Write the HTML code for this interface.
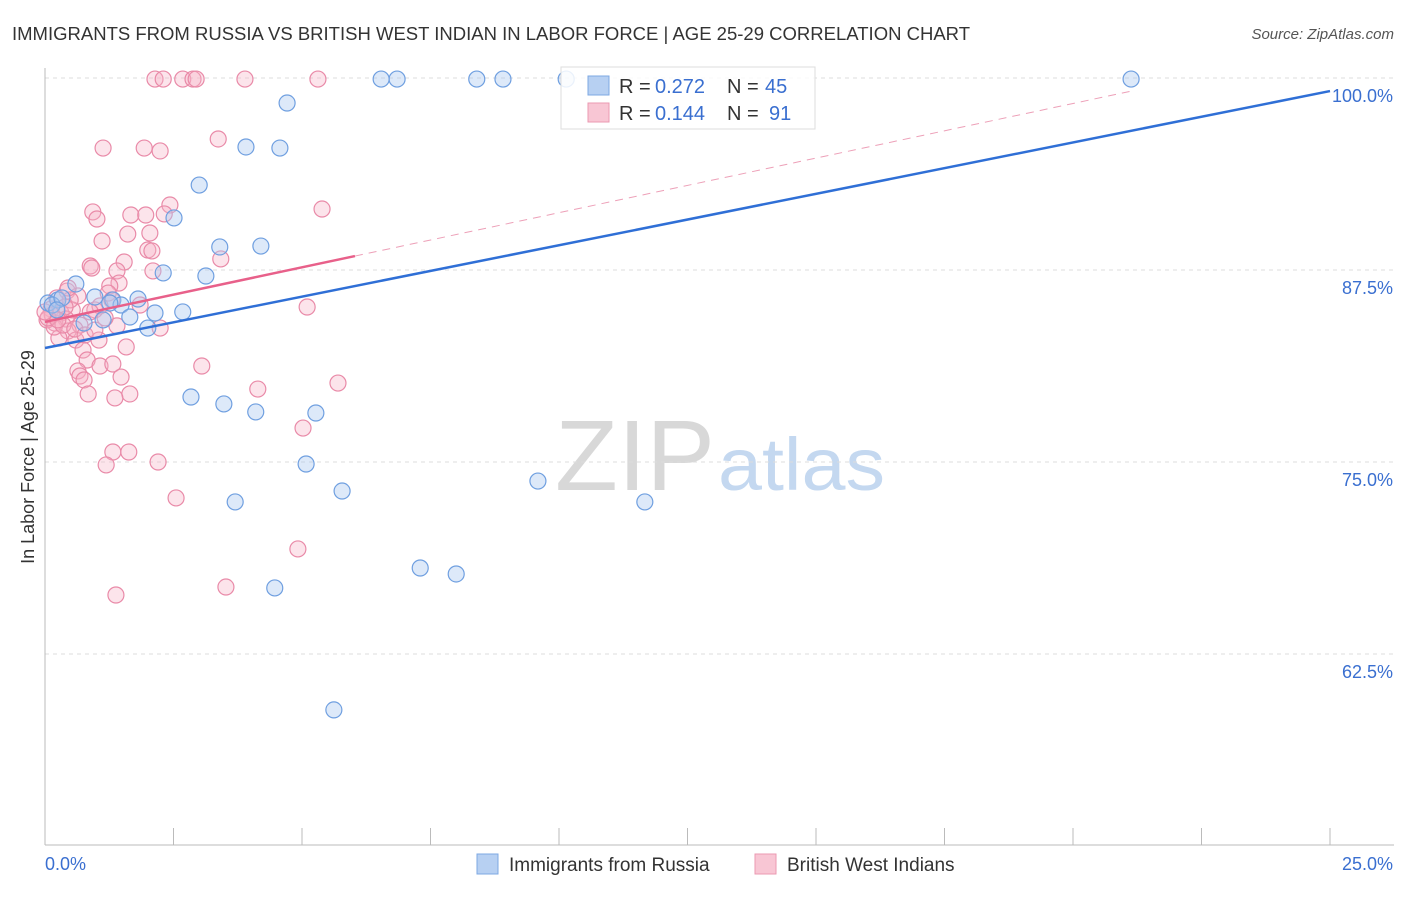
<!DOCTYPE html>
<html><head><meta charset="utf-8">
<style>
body{margin:0;background:#fff;font-family:"Liberation Sans",sans-serif;}
svg text{font-family:"Liberation Sans",sans-serif;}
</style></head>
<body>
<svg id="chart" width="1406" height="892" viewBox="0 0 1406 892" xmlns="http://www.w3.org/2000/svg">
<text x="12" y="40" font-size="18" fill="#333" textLength="958" lengthAdjust="spacingAndGlyphs">IMMIGRANTS FROM RUSSIA VS BRITISH WEST INDIAN IN LABOR FORCE | AGE 25-29 CORRELATION CHART</text>
<text x="1394" y="39" font-size="15" fill="#555" text-anchor="end" font-style="italic">Source: ZipAtlas.com</text>
<text transform="translate(34,457) rotate(-90)" font-size="18" fill="#333" text-anchor="middle">In Labor Force | Age 25-29</text>
<g>
<text x="555" y="490" font-size="100" fill="#d8d8d8" font-family="Liberation Serif, serif" textLength="160" lengthAdjust="spacingAndGlyphs">ZIP</text>
<text x="718" y="490" font-size="74" fill="#c4d8f0" textLength="167" lengthAdjust="spacingAndGlyphs">atlas</text>
</g>
<g id="grid"></g>
<g id="axes"></g>
<g id="pts"></g>
<g id="trend"></g>
<g>
<rect x="561" y="67" width="254" height="62" fill="#fff" fill-opacity="0.85" stroke="#ddd"/>
<rect x="588" y="76" width="21" height="19" fill="#b7d0f2" stroke="#7ea8e3"/>
<text x="619" y="93" font-size="20" fill="#333">R =</text>
<text x="655" y="93" font-size="20" fill="#3a6fd0">0.272</text>
<text x="727" y="93" font-size="20" fill="#333">N =</text>
<text x="765" y="93" font-size="20" fill="#3a6fd0">45</text>
<rect x="588" y="103" width="21" height="19" fill="#f8c6d4" stroke="#eb99b2"/>
<text x="619" y="120" font-size="20" fill="#333">R =</text>
<text x="655" y="120" font-size="20" fill="#3a6fd0">0.144</text>
<text x="727" y="120" font-size="20" fill="#333">N =</text>
<text x="769" y="120" font-size="20" fill="#3a6fd0">91</text>
</g>
<g>
<rect x="477" y="854" width="21" height="20" fill="#b7d0f2" stroke="#7ea8e3"/>
<text x="509" y="871" font-size="19" fill="#333">Immigrants from Russia</text>
<rect x="755" y="854" width="21" height="20" fill="#f8c6d4" stroke="#eb99b2"/>
<text x="787" y="871" font-size="19" fill="#333">British West Indians</text>
</g>
</svg>
<script>
const xTickVals=[0,2.5,5,7.5,10,12.5,15,17.5,20,22.5,25];
const yTickVals=[62.5,75,87.5,100];
const yTickLabels=["62.5%","75.0%","87.5%","100.0%"];
const russiaX=[10.14,6.54,6.85,8.40,8.91,21.13,4.71,3.91,4.57,3.00,2.51,3.40,4.20,2.30,3.13,0.60,0.97,1.32,1.81,1.48,0.06,0.25,1.65,2.14,2.68,1.13,0.76,2.00,2.84,3.48,4.10,5.27,5.08,3.70,5.78,9.59,11.67,7.30,8.00,4.47,5.62,0.14,0.33,1.26,0.23];
const russiaY=[99.93,99.93,99.93,99.93,99.93,99.93,98.37,95.51,95.44,93.03,90.89,89.0,89.06,87.31,87.11,86.59,85.74,85.55,85.61,85.22,85.35,85.55,84.44,84.70,84.77,84.25,84.05,83.72,79.23,78.78,78.26,78.19,74.87,72.40,73.11,73.76,72.40,68.10,67.71,66.80,58.86,85.22,85.68,85.35,84.90];
const bwiX=[2.14,2.30,2.68,2.88,2.94,3.89,5.31,3.37,1.13,1.93,2.24,2.43,0.93,1.01,1.67,1.96,2.32,5.39,1.61,2.04,1.11,2.00,2.08,3.42,0.88,0.91,1.54,1.40,2.10,1.44,1.26,0.43,0.64,1.23,1.30,0.97,5.10,0.12,0.31,0.53,0.41,0.19,0.04,0.68,1.40,2.24,0.45,0.27,1.05,0.60,1.58,0.74,0.82,1.07,1.32,3.05,0.64,0.68,0.76,1.48,5.70,4.14,0.84,1.65,1.36,5.02,1.32,1.63,1.19,2.20,2.55,4.92,3.52,1.38,0.14,0.18,0.35,0.58,0.06,0.23,0.49,1.07,0.88,1.17,0.39,0.0,0.78,0.97,1.85,0.45,0.25];
const bwiY=[99.93,99.93,99.93,99.93,99.93,99.93,99.93,96.03,95.44,95.44,95.25,91.73,91.28,90.82,91.08,91.08,91.15,91.47,89.84,89.91,89.39,88.80,88.74,88.22,87.76,87.63,88.02,87.44,87.44,86.65,86.46,86.13,85.81,86.0,85.55,84.90,85.09,84.96,84.70,84.90,84.31,84.05,84.25,83.92,83.86,83.72,83.53,83.07,82.94,82.94,82.49,82.29,81.64,81.25,81.38,81.25,80.93,80.60,80.34,80.53,80.14,79.75,79.43,79.43,79.17,77.21,75.65,75.65,74.81,75.0,72.66,69.34,66.86,66.34,84.57,83.79,83.92,83.66,84.38,85.68,85.55,85.16,84.77,84.38,85.09,84.77,83.27,83.59,85.22,86.33,84.25];
const russiaTrend=[82.42,99.15];
const bwiTrend=[84.12,0.711];
const bwiSolidEnd=6.03, bwiDashEnd=21.1;

const NS="http://www.w3.org/2000/svg";
const X=v=>45+v/25*1285;
const Y=v=>78+(100-v)*15.36;
function mk(tag,attrs,parent){const e=document.createElementNS(NS,tag);for(const k in attrs)e.setAttribute(k,attrs[k]);parent.appendChild(e);return e;}
const grid=document.getElementById('grid'),axes=document.getElementById('axes'),pts=document.getElementById('pts'),tr=document.getElementById('trend');
yTickVals.forEach((v,i)=>{
  const l=mk('line',{x1:45,x2:1394,y1:Y(v),y2:Y(v),stroke:'#ddd','stroke-dasharray':'4,4'},grid);
  
  
  const t=mk('text',{x:1393,y:Y(v)+24,'font-size':18,fill:'#3a6fd0','text-anchor':'end'},axes);
  t.textContent=yTickLabels[i];
  
  
});
const xa=mk('line',{x1:45,x2:1394,y1:845,y2:845,stroke:'#bbb'},axes);


const ya=mk('line',{x1:45,x2:45,y1:68,y2:845,stroke:'#bbb'},axes);


xTickVals.forEach(v=>{
  const t=mk('line',{x1:X(v),x2:X(v),y1:828,y2:845,stroke:'#bbb'},axes);
  
  
});
const xl0=mk('text',{x:45,y:870,'font-size':18,fill:'#3a6fd0'},axes);xl0.textContent='0.0%';


const xl1=mk('text',{x:1393,y:870,'font-size':18,fill:'#3a6fd0','text-anchor':'end'},axes);xl1.textContent='25.0%';


bwiX.forEach((x,i)=>{
  const c=mk('circle',{cx:X(x),cy:Y(bwiY[i]),r:8,fill:'#f5b3c7','fill-opacity':0.35,stroke:'#e98aa8','stroke-width':1.2},pts);
  
  
});
russiaX.forEach((x,i)=>{
  const c=mk('circle',{cx:X(x),cy:Y(russiaY[i]),r:8,fill:'#a9c8ef','fill-opacity':0.4,stroke:'#6f9fe0','stroke-width':1.2},pts);
  
  
});
const rl=mk('line',{x1:X(0),y1:Y(russiaTrend[0]),x2:X(25),y2:Y(russiaTrend[1]),stroke:'#2f6fd6','stroke-width':2.5},tr);


const pd=mk('line',{x1:X(bwiSolidEnd),y1:Y(bwiTrend[0]+bwiTrend[1]*bwiSolidEnd),x2:X(bwiDashEnd),y2:Y(bwiTrend[0]+bwiTrend[1]*bwiDashEnd),stroke:'#eda0b8','stroke-width':1,'stroke-dasharray':'8,6'},tr);


const pl=mk('line',{x1:X(0),y1:Y(bwiTrend[0]),x2:X(bwiSolidEnd),y2:Y(bwiTrend[0]+bwiTrend[1]*bwiSolidEnd),stroke:'#e8608a','stroke-width':2.5},tr);


</script>
</body></html>
